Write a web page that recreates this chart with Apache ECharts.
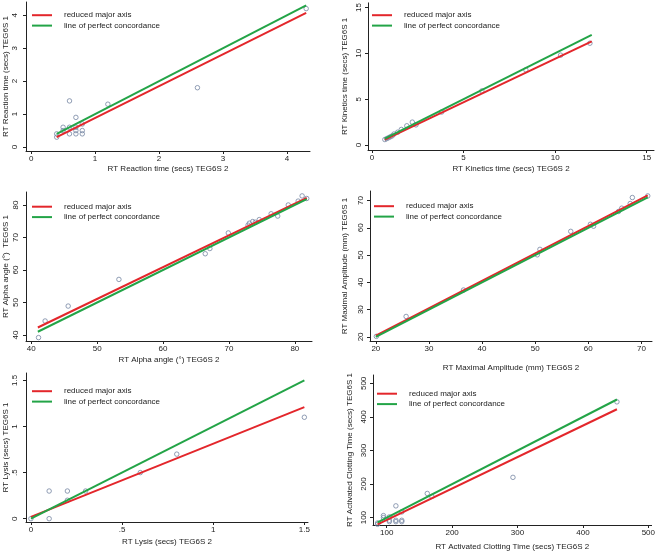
<!DOCTYPE html>
<html>
<head>
<meta charset="utf-8">
<script src="https://cdn.jsdelivr.net/npm/echarts@6/dist/echarts.min.js"></script>
<style>
html,body{margin:0;padding:0;background:#fff;}
#c{width:658px;height:552px;}
</style>
</head>
<body>
<div id="c"></div>
<script>
// ---- data ----
const legendNames = ['reduced major axis', 'line of perfect concordance'];

const reactionPts = [[0.4,0.4],[0.4,0.3],[0.5,0.6],[0.5,0.5],[0.6,0.6],[0.6,0.4],[0.6,1.4],[0.7,0.9],[0.7,0.6],[0.7,0.5],[0.7,0.4],[0.8,0.7],[0.8,0.5],[0.8,0.4],[1.2,1.3],[2.6,1.8],[4.3,4.2]];
const reactionRMA = [[0.4,0.3],[4.3,4.07]];
const reactionPLC = [[0.4,0.4],[4.3,4.3]];
const reactionXTicks = [0,1,2,3,4];
const reactionYTicks = [0,1,2,3,4];

const kineticsPts = [[0.7,0.6],[0.8,0.7],[0.9,0.8],[1.0,0.9],[1.1,1.0],[1.2,1.2],[1.4,1.4],[1.6,1.7],[1.9,2.1],[2.2,2.5],[2.4,2.2],[3.8,3.6],[6.0,5.9],[8.4,8.2],[10.3,9.8],[11.9,11.1]];
const kineticsRMA = [[0.7,0.6],[12,11.3]];
const kineticsPLC = [[0.7,0.7],[12,12]];
const kineticsXTicks = [0,5,10,15];
const kineticsYTicks = [0,5,10,15];

const alphaPts = [[41.1,39.2],[42.1,44.3],[45.6,48.9],[53.3,57.1],[66.4,65.0],[67.1,66.6],[69.9,71.4],[72.9,73.8],[73.1,74.4],[73.6,74.9],[74.0,74.7],[74.6,75.5],[76.4,77.3],[77.4,76.6],[79.0,80.0],[80.5,81.2],[81.1,82.8],[81.8,82.0]];
const alphaRMA = [[41,42.3],[81.8,82.2]];
const alphaPLC = [[41,41],[81.8,81.8]];
const alphaXTicks = [40,50,60,70,80];
const alphaYTicks = [40,50,60,70,80];

const amplitudePts = [[20.1,20.2],[25.7,27.5],[36.5,37.2],[50.4,50.1],[50.9,52.1],[56.7,58.7],[60.4,61.3],[61.0,60.6],[65.7,66.0],[66.3,67.2],[67.9,68.9],[68.3,71.1],[71.2,71.7]];
const amplitudeRMA = [[20,20.5],[71.2,71.9]];
const amplitudePLC = [[20,20],[71.2,71.2]];
const amplitudeXTicks = [20,30,40,50,60,70];
const amplitudeYTicks = [20,30,40,50,60,70];

const lysisPts = [[0,0],[0.1,0.3],[0.1,0],[0.2,0.3],[0.2,0.2],[0.3,0.3],[0.6,0.5],[0.8,0.7],[1.5,1.1]];
const lysisRMA = [[0,0.02],[1.5,1.21]];
const lysisPLC = [[0,0],[1.5,1.5]];
const lysisXTicks = [0,0.5,1,1.5];
const lysisYTicks = [0,0.5,1,1.5];

const actPts = [[86,80],[86,84],[95,106],[95,100],[104,102],[104,92],[104,88],[114,135],[114,92],[114,88],[123,117],[123,92],[123,88],[162,172],[169,163],[293,220],[452,445]];
const actRMA = [[86,80],[452,423]];
const actPLC = [[86,86],[452,452]];
const actXTicks = [100,200,300,400,500];
const actYTicks = [100,200,300,400,500];

// ---- panel layout ----
const panels = [
  {xName:'RT Reaction time (secs) TEG6S 2', yName:'RT Reaction time (secs) TEG6S 1', pts:reactionPts, rma:reactionRMA, plc:reactionPLC, xt:reactionXTicks, yt:reactionYTicks,
   grid:{left:26, top:2, width:284, height:149}, xr:[-0.08,4.36], yr:[-0.12,4.4], xGap:14, yGap:16.5, yMargin:7, leg:{left:32, top:10}},
  {xName:'RT Kinetics time (secs) TEG6S 2', yName:'RT Kinetics time (secs) TEG6S 1', pts:kineticsPts, rma:kineticsRMA, plc:kineticsPLC, xt:kineticsXTicks, yt:kineticsYTicks,
   grid:{left:368, top:1, width:286, height:149}, xr:[-0.22,15.4], yr:[-0.54,15.5], xGap:15, yGap:19.5, yMargin:5, leg:{left:372, top:10}},
  {xName:'RT Alpha angle (°) TEG6S 2', yName:'RT Alpha angle (°)  TEG6S 1', pts:alphaPts, rma:alphaRMA, plc:alphaPLC, xt:alphaXTicks, yt:alphaYTicks,
   grid:{left:26, top:192, width:286, height:149}, xr:[39.2,82.6], yr:[38.15,84], xGap:15, yGap:16.5, yMargin:6.5, leg:{left:32, top:201.5}},
  {xName:'RT Maximal Amplitude (mm) TEG6S 2', yName:'RT Maximal Amplitude (mm) TEG6S 1', pts:amplitudePts, rma:amplitudeRMA, plc:amplitudeRMA && amplitudePLC, xt:amplitudeXTicks, yt:amplitudeYTicks,
   grid:{left:370, top:191, width:282, height:150}, xr:[18.9,72], yr:[18.5,73.5], xGap:23, yGap:21.5, yMargin:5, leg:{left:374, top:201}},
  {xName:'RT Lysis (secs) TEG6S 2', yName:'RT Lysis (secs) TEG6S 1', pts:lysisPts, rma:lysisRMA, plc:lysisPLC, xt:lysisXTicks, yt:lysisYTicks,
   grid:{left:26, top:373, width:282, height:149}, xr:[-0.027,1.52], yr:[-0.036,1.58], xGap:16, yGap:16.5, yMargin:7, leg:{left:32, top:386}},
  {xName:'RT Activated Clotting Time (secs) TEG6S 2', yName:'RT Activated Clotting Time (secs) TEG6S 1', pts:actPts, rma:actRMA, plc:actPLC, xt:actXTicks, yt:actYTicks,
   grid:{left:373, top:375, width:281, height:150}, xr:[79,505], yr:[78,525], xGap:18, yGap:19.5, yMargin:5, leg:{left:377, top:388.5}}
];

const FONT = 'Liberation Sans';
const AX = '#222';
const RED = '#e3262b';
const GREEN = '#23a447';
const MARK = '#7686a3';
const fmt = v => String(v).replace(/^0\./, '.');

const grids = [], xAxes = [], yAxes = [], series = [], legends = [];
panels.forEach((p, i) => {
  grids.push(Object.assign({containLabel:false}, p.grid));
  xAxes.push({
    type:'value', gridIndex:i, min:p.xr[0], max:p.xr[1],
    axisLine:{show:true, onZero:false, lineStyle:{color:AX, width:1}},
    axisTick:{show:true, inside:false, length:3, customValues:p.xt, lineStyle:{color:AX}},
    axisLabel:{customValues:p.xt, fontSize:8, margin:4, color:AX, fontFamily:FONT, formatter:fmt},
    splitLine:{show:false},
    name:p.xName, nameLocation:'middle', nameGap:p.xGap,
    nameTextStyle:{fontSize:8, color:AX, fontFamily:FONT}
  });
  yAxes.push({
    type:'value', gridIndex:i, min:p.yr[0], max:p.yr[1],
    axisLine:{show:true, onZero:false, lineStyle:{color:AX, width:1}},
    axisTick:{show:true, inside:false, length:3, customValues:p.yt, lineStyle:{color:AX}},
    axisLabel:{customValues:p.yt, fontSize:8, margin:p.yMargin, rotate:90, color:AX, fontFamily:FONT, formatter:fmt},
    splitLine:{show:false},
    name:p.yName, nameLocation:'middle', nameGap:p.yGap,
    nameTextStyle:{fontSize:8, color:AX, fontFamily:FONT}
  });
  series.push({
    type:'scatter', xAxisIndex:i, yAxisIndex:i, data:p.pts, symbol:'circle', symbolSize:4.5,
    itemStyle:{color:'rgba(0,0,0,0)', borderColor:MARK, borderWidth:1}, z:2
  });
  series.push({
    type:'line', name:legendNames[0], xAxisIndex:i, yAxisIndex:i, data:p.rma,
    showSymbol:false, symbol:'none', lineStyle:{color:RED, width:2}, itemStyle:{color:RED}, z:3
  });
  series.push({
    type:'line', name:legendNames[1], xAxisIndex:i, yAxisIndex:i, data:p.plc,
    showSymbol:false, symbol:'none', lineStyle:{color:GREEN, width:2}, itemStyle:{color:GREEN}, z:4
  });
  legends.push({
    data:legendNames, orient:'vertical', left:p.leg.left, top:p.leg.top,
    icon:'rect', itemWidth:20, itemHeight:2, itemGap:0, padding:0,
    selectedMode:false,
    textStyle:{fontSize:8, color:AX, fontFamily:FONT, lineHeight:10.4, padding:[0,0,0,7]}
  });
});

const chart = echarts.init(document.getElementById('c'), null, {renderer:'canvas'});
chart.setOption({
  animation:false,
  backgroundColor:'#fff',
  textStyle:{fontFamily:FONT},
  grid:grids, xAxis:xAxes, yAxis:yAxes, series:series, legend:legends
});
</script>
</body>
</html>
